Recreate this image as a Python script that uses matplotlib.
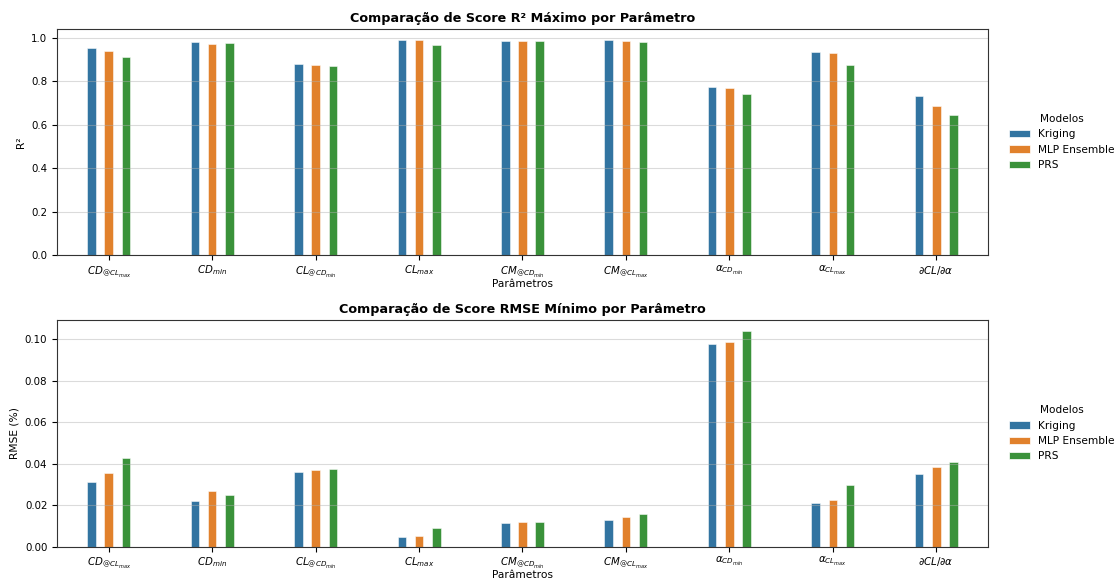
import numpy as np
import matplotlib
matplotlib.use("Agg")
import matplotlib.pyplot as plt
from matplotlib.patches import Patch

parametros = [
    r"$CD_{@CL_{max}}$", r"$CD_{min}$", r"$CL_{@CD_{min}}$", r"$CL_{max}$",
    r"$CM_{@CD_{min}}$", r"$CM_{@CL_{max}}$", r"$\alpha_{CD_{min}}$",
    r"$\alpha_{CL_{max}}$", r"$\partial CL/\partial\alpha$",
]
modelos = ["Kriging", "MLP Ensemble", "PRS"]
cores = ["#3274a1", "#e1812c", "#3a923a"]

r2_kriging = [0.954, 0.979, 0.881, 0.991, 0.986, 0.988, 0.774, 0.936, 0.734]
r2_mlp     = [0.940, 0.969, 0.876, 0.988, 0.986, 0.986, 0.768, 0.928, 0.685]
r2_prs     = [0.911, 0.974, 0.870, 0.965, 0.986, 0.982, 0.743, 0.873, 0.644]

rmse_kriging = [0.0310, 0.0220, 0.0360, 0.0047, 0.0114, 0.0129, 0.0976, 0.0211, 0.0352]
rmse_mlp     = [0.0355, 0.0268, 0.0368, 0.0051, 0.0117, 0.0141, 0.0987, 0.0223, 0.0384]
rmse_prs     = [0.0429, 0.0249, 0.0375, 0.0088, 0.0119, 0.0158, 0.1040, 0.0299, 0.0407]

FS = 7.4

fig = plt.figure(figsize=(11.18, 5.81), dpi=100)
ax1 = fig.add_axes([0.051, 0.5606, 0.8327, 0.3898])
ax2 = fig.add_axes([0.051, 0.0590, 0.8327, 0.3902])

x = np.arange(len(parametros))
passo = 0.5 / 3
largura = passo * 0.5


def painel(ax, series, titulo, ylabel):
    for i, (nome, vals, cor) in enumerate(zip(modelos, series, cores)):
        ax.bar(x + (i - 1) * passo, vals, width=largura, color=cor,
               edgecolor=(1, 1, 1, 0.6), linewidth=0.6, label=nome)
    ax.set_xlim(-0.5, len(parametros) - 0.5)
    ax.set_xticks(x)
    ax.set_xticklabels(parametros, fontsize=FS)
    ax.tick_params(axis="x", pad=2.5)
    ax.tick_params(axis="y", labelsize=FS)
    ax.grid(True, axis="y", color="#b0b0b0", alpha=0.45, linewidth=0.8)
    ax.set_title(titulo, fontsize=9.2, fontweight="bold", pad=5)
    ax.set_xlabel("Parâmetros", fontsize=7.7, labelpad=0)
    ax.set_ylabel(ylabel, fontsize=7.7)
    for s in ax.spines.values():
        s.set_color("#333333")
        s.set_linewidth(0.8)
    handles = [Patch(facecolor=c, edgecolor="white", linewidth=0.5) for c in cores]
    ax.legend(handles, modelos, title="Modelos", loc="center left",
              bbox_to_anchor=(1.012, 0.5), frameon=False, fontsize=7.6,
              title_fontsize=7.6)


painel(ax1, [r2_kriging, r2_mlp, r2_prs],
       "Comparação de Score R² Máximo por Parâmetro", "R²")
painel(ax2, [rmse_kriging, rmse_mlp, rmse_prs],
       "Comparação de Score RMSE Mínimo por Parâmetro", "RMSE (%)")

fig.savefig("out.png", dpi=100)
